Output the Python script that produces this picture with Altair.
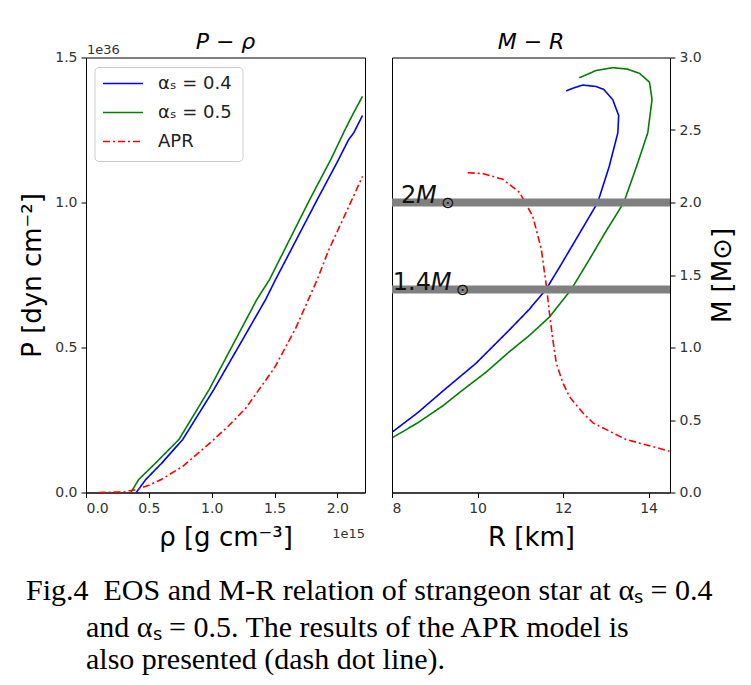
import altair as alt
import pandas as pd

# ---------------- data ----------------
SERIES = ["αₛ = 0.4", "αₛ = 0.5", "APR"]
COLORS = ["#0000ff", "#008000", "#ff0000"]
DASHES = [[1, 0], [1, 0], [7, 3, 2, 3]]

# EOS: rho in 1e15 g cm^-3, P in 1e36 dyn cm^-2
rho_a04 = [0.40, 0.476, 0.60, 0.77, 1.017, 1.25, 1.43, 1.508, 1.84, 2.00, 2.09, 2.13, 2.20]
P_a04 = [0.0, 0.045, 0.10, 0.183, 0.355, 0.53, 0.666, 0.734, 1.01, 1.14, 1.217, 1.24, 1.30]

rho_a05 = [0.357, 0.42, 0.55, 0.74, 0.98, 1.36, 1.46, 1.78, 1.95, 2.06, 2.13, 2.20]
P_a05 = [0.0, 0.045, 0.10, 0.183, 0.355, 0.666, 0.734, 1.01, 1.15, 1.25, 1.31, 1.366]

rho_apr = [0.10, 0.30, 0.40, 0.50, 0.60, 0.77, 1.00, 1.135, 1.27, 1.50, 1.667, 1.84, 1.93, 2.09, 2.20]
P_apr = [0.0, 0.002, 0.01, 0.025, 0.045, 0.09, 0.176, 0.23, 0.29, 0.43, 0.565, 0.734, 0.835, 0.985, 1.09]

# M-R: R in km, M in solar masses
R_a04 = [8.02, 8.6, 9.19, 9.96, 10.74, 11.2, 11.6, 11.95, 12.25, 12.55, 12.81, 13.08, 13.28,
         13.30, 13.16, 12.95, 12.77, 12.46, 12.25, 12.07]
M_a04 = [0.42, 0.55, 0.70, 0.89, 1.12, 1.26, 1.40, 1.57, 1.72, 1.87, 2.0, 2.25, 2.48,
         2.60, 2.71, 2.78, 2.80, 2.81, 2.79, 2.77]

R_a05 = [8.02, 8.6, 9.2, 9.58, 10.2, 10.74, 11.2, 11.68, 12.19, 12.62, 13.0, 13.42, 13.72,
         13.98, 14.08, 14.02, 13.79, 13.5, 13.16, 12.77, 12.38]
M_a05 = [0.38, 0.48, 0.60, 0.69, 0.83, 0.97, 1.08, 1.21, 1.40, 1.61, 1.80, 2.0, 2.25,
         2.48, 2.71, 2.83, 2.89, 2.92, 2.93, 2.91, 2.86]

R_apr = [9.77, 10.12, 10.59, 10.98, 11.29, 11.49, 11.62, 11.68, 11.76, 11.84, 11.99, 12.15,
         12.46, 12.70, 13.47, 14.49]
M_apr = [2.205, 2.20, 2.16, 2.07, 1.906, 1.68, 1.40, 1.24, 1.055, 0.894, 0.76, 0.66,
         0.55, 0.48, 0.366, 0.285]

band_masses = [2.0, 1.4]
band_number = ["2", "1.4"]
band_R = [8.21, 8.02]

CAPTION_LINES = [
    "Fig.4\u00a0\u00a0EOS and M-R relation of strangeon star at αₛ = 0.4",
    "and αₛ = 0.5. The results of the APR model is",
    "also presented (dash dot line).",
]

# ---------------- tables ----------------
eos_rows = []
for name, xs, ys in zip(SERIES, [rho_a04, rho_a05, rho_apr], [P_a04, P_a05, P_apr]):
    for i, (a, b) in enumerate(zip(xs, ys)):
        eos_rows.append({"rho": a, "P": b, "series": name, "i": i})
eos_df = pd.DataFrame(eos_rows)

mr_rows = []
for name, xs, ys in zip(SERIES, [R_a04, R_a05, R_apr], [M_a04, M_a05, M_apr]):
    for i, (a, b) in enumerate(zip(xs, ys)):
        mr_rows.append({"R": a, "M": b, "series": name, "i": i})
mr_df = pd.DataFrame(mr_rows)

band_df = pd.DataFrame({"M": band_masses, "num": band_number, "R": band_R})
leg_df = pd.DataFrame({"series": SERIES})
cap_df = pd.DataFrame({"t": CAPTION_LINES})

# ---------------- scales / axes ----------------
FONT = "DejaVu Sans"
W, H = 279, 435
W2 = 278

color_scale = alt.Scale(domain=SERIES, range=COLORS)
dash_scale = alt.Scale(domain=SERIES, range=DASHES)

rho_x = alt.X("rho:Q", scale=alt.Scale(domain=[0, 2.22], nice=False, zero=False),
              axis=alt.Axis(values=[0, 0.5, 1.0, 1.5, 2.0], format=".1f", title="ρ [g cm⁻³]"))
P_y = alt.Y("P:Q", scale=alt.Scale(domain=[0, 1.5], nice=False),
            axis=alt.Axis(values=[0, 0.5, 1.0, 1.5], format=".1f", title="P [dyn cm⁻²]"))

R_scale = alt.Scale(domain=[8, 14.5], nice=False, zero=False)
M_scale = alt.Scale(domain=[0, 3], nice=False)
R_axis = alt.Axis(values=[8, 10, 12, 14], format="d", title="R [km]")
M_axis = alt.Axis(orient="right", values=[0, 0.5, 1.0, 1.5, 2.0, 2.5, 3.0], format=".1f",
                  title="M [M⊙]", titleAngle=270, titleBaseline="top", titlePadding=8)

# ---------------- left panel ----------------
eos_lines = alt.Chart(eos_df).mark_line(strokeWidth=1.6).encode(
    x=rho_x, y=P_y,
    color=alt.Color("series:N", scale=color_scale, legend=None),
    strokeDash=alt.StrokeDash("series:N", scale=dash_scale, legend=None),
    order="i:Q",
)

# legend box (drawn inside the left panel, top-left)
leg_box = alt.Chart(leg_df.iloc[[0]]).mark_rect(
    fill="white", stroke="#cccccc", strokeWidth=1, cornerRadius=4
).encode(x=alt.value(9), x2=alt.value(157), y=alt.value(10), y2=alt.value(104))
leg_layers = [leg_box]
for k in range(len(SERIES)):
    row = leg_df.iloc[[k]]
    yk = 26 + 29 * k
    leg_layers.append(
        alt.Chart(row).mark_rule(strokeWidth=1.6).encode(
            x=alt.value(17), x2=alt.value(57), y=alt.value(yk),
            color=alt.Color("series:N", scale=color_scale, legend=None),
            strokeDash=alt.StrokeDash("series:N", scale=dash_scale, legend=None),
        )
    )
    leg_layers.append(
        alt.Chart(row).mark_text(font=FONT, fontSize=18, align="left", baseline="middle",
                                 color="#222").encode(
            text="series:N", x=alt.value(72), y=alt.value(yk)
        )
    )

left_title = alt.Chart(pd.DataFrame({"t": ["P − ρ"]})).mark_text(
    font=FONT, fontSize=22, fontStyle="italic", align="center", baseline="alphabetic"
).encode(text="t:N", x=alt.value(W / 2), y=alt.value(-9))
exp36 = alt.Chart(pd.DataFrame({"t": ["1e36"]})).mark_text(
    font=FONT, fontSize=13, color="#333", align="left", baseline="alphabetic"
).encode(text="t:N", x=alt.value(1), y=alt.value(-4))
exp15 = alt.Chart(pd.DataFrame({"t": ["1e15"]})).mark_text(
    font=FONT, fontSize=13, color="#333", align="right", baseline="alphabetic"
).encode(text="t:N", x=alt.value(W), y=alt.value(H + 45))

# caption (below both panels)
cap_layers = []
for k, (xx, yy) in enumerate(zip([-60, 0, 0], [H + 107, H + 144, H + 176])):
    cap_layers.append(
        alt.Chart(cap_df.iloc[[k]]).mark_text(
            font="Liberation Serif", fontSize=30, align="left", baseline="alphabetic",
            color="black"
        ).encode(text="t:N", x=alt.value(xx), y=alt.value(yy))
    )

left = alt.layer(eos_lines, *leg_layers, exp36, exp15, left_title, *cap_layers).properties(
    width=W, height=H
)

# ---------------- right panel ----------------
enc_xy = dict(x=alt.X("R:Q", scale=R_scale, axis=R_axis), y=alt.Y("M:Q", scale=M_scale, axis=M_axis))

mr_lines = alt.Chart(mr_df).mark_line(strokeWidth=1.6).encode(
    color=alt.Color("series:N", scale=color_scale, legend=None),
    strokeDash=alt.StrokeDash("series:N", scale=dash_scale, legend=None),
    order="i:Q",
    **enc_xy,
)
bands = alt.Chart(band_df).mark_rule(strokeWidth=8, color="#808080").encode(
    y=alt.Y("M:Q", scale=M_scale, axis=M_axis)
)
lab_num = alt.Chart(band_df).mark_text(
    font=FONT, fontSize=24, align="left", baseline="alphabetic", color="#111"
).encode(text="num:N", **enc_xy)
lab_M_2 = alt.Chart(band_df.iloc[[0]]).mark_text(
    font=FONT, fontSize=24, fontStyle="italic", align="left", baseline="alphabetic",
    dx=15, color="#111"
).encode(text=alt.value("M"), **enc_xy)
lab_sun_2 = alt.Chart(band_df.iloc[[0]]).mark_text(
    font=FONT, fontSize=16, align="left", baseline="middle", dx=40, dy=0, color="#111"
).encode(text=alt.value("⊙"), **enc_xy)
lab_M_14 = alt.Chart(band_df.iloc[[1]]).mark_text(
    font=FONT, fontSize=24, fontStyle="italic", align="left", baseline="alphabetic",
    dx=38, color="#111"
).encode(text=alt.value("M"), **enc_xy)
lab_sun_14 = alt.Chart(band_df.iloc[[1]]).mark_text(
    font=FONT, fontSize=16, align="left", baseline="middle", dx=63, dy=0, color="#111"
).encode(text=alt.value("⊙"), **enc_xy)
right_title = alt.Chart(pd.DataFrame({"t": ["M − R"]})).mark_text(
    font=FONT, fontSize=22, fontStyle="italic", align="center", baseline="alphabetic"
).encode(text="t:N", x=alt.value(W2 / 2), y=alt.value(-9))

right = alt.layer(mr_lines, bands, lab_num, lab_M_2, lab_sun_2, lab_M_14, lab_sun_14,
                  right_title).properties(width=W2, height=H)

chart = alt.hconcat(left, right, spacing=27, bounds="flush").properties(
    padding={"left": 11, "top": 21.5, "right": 0, "bottom": 0},
).configure_view(stroke="black", strokeWidth=1).configure_axis(
    grid=False, domainColor="black", tickColor="black", tickSize=5, labelFont=FONT,
    labelFontSize=14, labelColor="#333", labelPadding=4, titleFont=FONT, titleFontSize=26,
    titleFontWeight="normal", titleColor="black", titlePadding=9,
)

chart.save("out.html", embed_options={"renderer": "svg", "actions": False})
